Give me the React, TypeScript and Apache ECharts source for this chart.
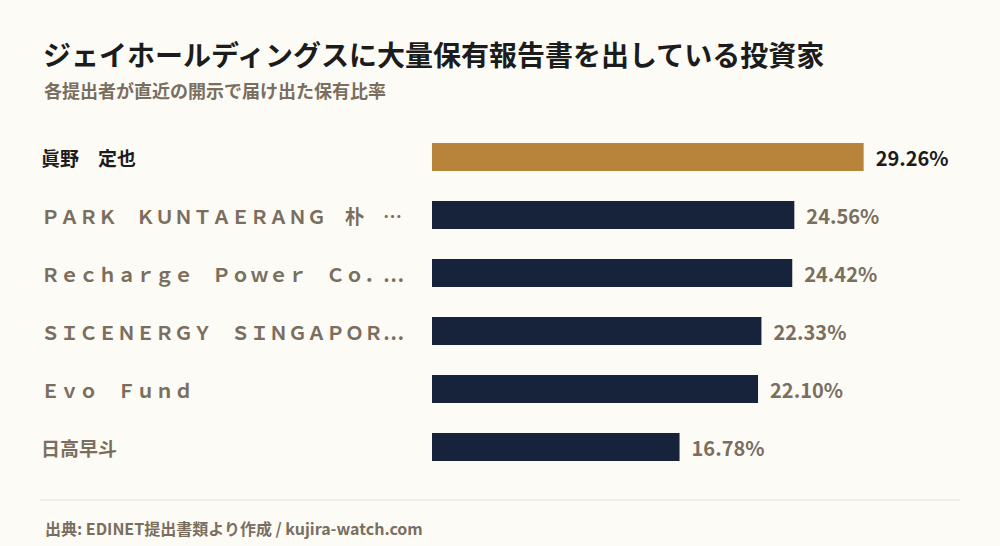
import React, { useEffect, useRef } from "react";
import * as echarts from "echarts";

const categories = [
  "眞野　定也",
  "ＰＡＲＫ　ＫＵＮＴＡＥＲＡＮＧ　朴　…",
  "Ｒｅｃｈａｒｇｅ　Ｐｏｗｅｒ　Ｃｏ．…",
  "ＳＩＣＥＮＥＲＧＹ　ＳＩＮＧＡＰＯＲ…",
  "Ｅｖｏ　Ｆｕｎｄ",
  "日高早斗",
];
const values = [29.26, 24.56, 24.42, 22.33, 22.1, 16.78];
const highlightIndex = 0;

const titleText = "ジェイホールディングスに大量保有報告書を出している投資家";
const subtitleText = "各提出者が直近の開示で届け出た保有比率";
const sourceText = "出典: EDINET提出書類より作成 / kujira-watch.com";

const FONT = '"Noto Sans CJK JP", "Noto Sans", sans-serif';
const GOLD = "#b8843b";
const NAVY = "#17223b";
const DARK = "#1c1c1c";
const MUTED = "#7a6e5f";
const BG = "#fdfbf6";

export default function App() {
  const ref = useRef<HTMLDivElement>(null);
  useEffect(() => {
    if (!ref.current) return;
    document.body.style.margin = "0";
    const chart = echarts.init(ref.current, undefined, { renderer: "svg" });
    chart.setOption({
      animation: false,
      backgroundColor: BG,
      textStyle: { fontFamily: FONT },
      title: [
        {
          text: titleText,
          left: 38,
          top: 33,
          textStyle: { fontFamily: FONT, fontSize: 28, fontWeight: "bold", color: DARK, lineHeight: 32 },
        },
        {
          text: subtitleText,
          left: 39,
          top: 75,
          textStyle: { fontFamily: FONT, fontSize: 18, fontWeight: "bold", color: MUTED, lineHeight: 20 },
        },
        {
          text: sourceText,
          left: 40,
          top: 513,
          textStyle: { fontFamily: FONT, fontSize: 16, fontWeight: "bold", color: MUTED, lineHeight: 20 },
        },
      ],
      graphic: [
        {
          type: "line",
          shape: { x1: 40, y1: 500, x2: 960, y2: 500 },
          style: { stroke: "#e8dfcd", lineWidth: 1 },
        },
      ],
      grid: { left: 432, right: 50, top: 128, height: 348, containLabel: false },
      xAxis: {
        type: "value",
        min: 0,
        max: (v: { max: number }) => v.max * 1.2,
        show: false,
      },
      yAxis: {
        type: "category",
        data: categories,
        inverse: true,
        axisLine: { show: false },
        axisTick: { show: false },
        splitLine: { show: false },
        axisLabel: {
          align: "left",
          margin: 391,
          fontFamily: FONT,
          fontSize: 19,
          fontWeight: "bold",
          formatter: (v: string, i: number) => (i === highlightIndex ? `{h|${v}}` : `{m|${v}}`),
          rich: {
            h: { fontFamily: FONT, fontSize: 19, fontWeight: "bold", color: DARK },
            m: { fontFamily: FONT, fontSize: 19, fontWeight: "bold", color: MUTED },
          },
        },
      },
      series: [
        {
          type: "bar",
          barWidth: 28,
          data: values.map((v, i) => ({
            value: v,
            itemStyle: { color: i === highlightIndex ? GOLD : NAVY },
            label: { color: i === highlightIndex ? DARK : MUTED },
          })),
          label: {
            show: true,
            position: "right",
            distance: 12,
            fontFamily: FONT,
            fontSize: 20,
            fontWeight: "bold",
            formatter: (p: { value: number }) => `${p.value.toFixed(2)}%`,
          },
        },
      ],
    });
    return () => chart.dispose();
  }, []);
  return (
    <div style={{ position: "fixed", left: 0, top: 0, background: BG }}>
      <div ref={ref} style={{ width: 1000, height: 546 }} />
    </div>
  );
}
